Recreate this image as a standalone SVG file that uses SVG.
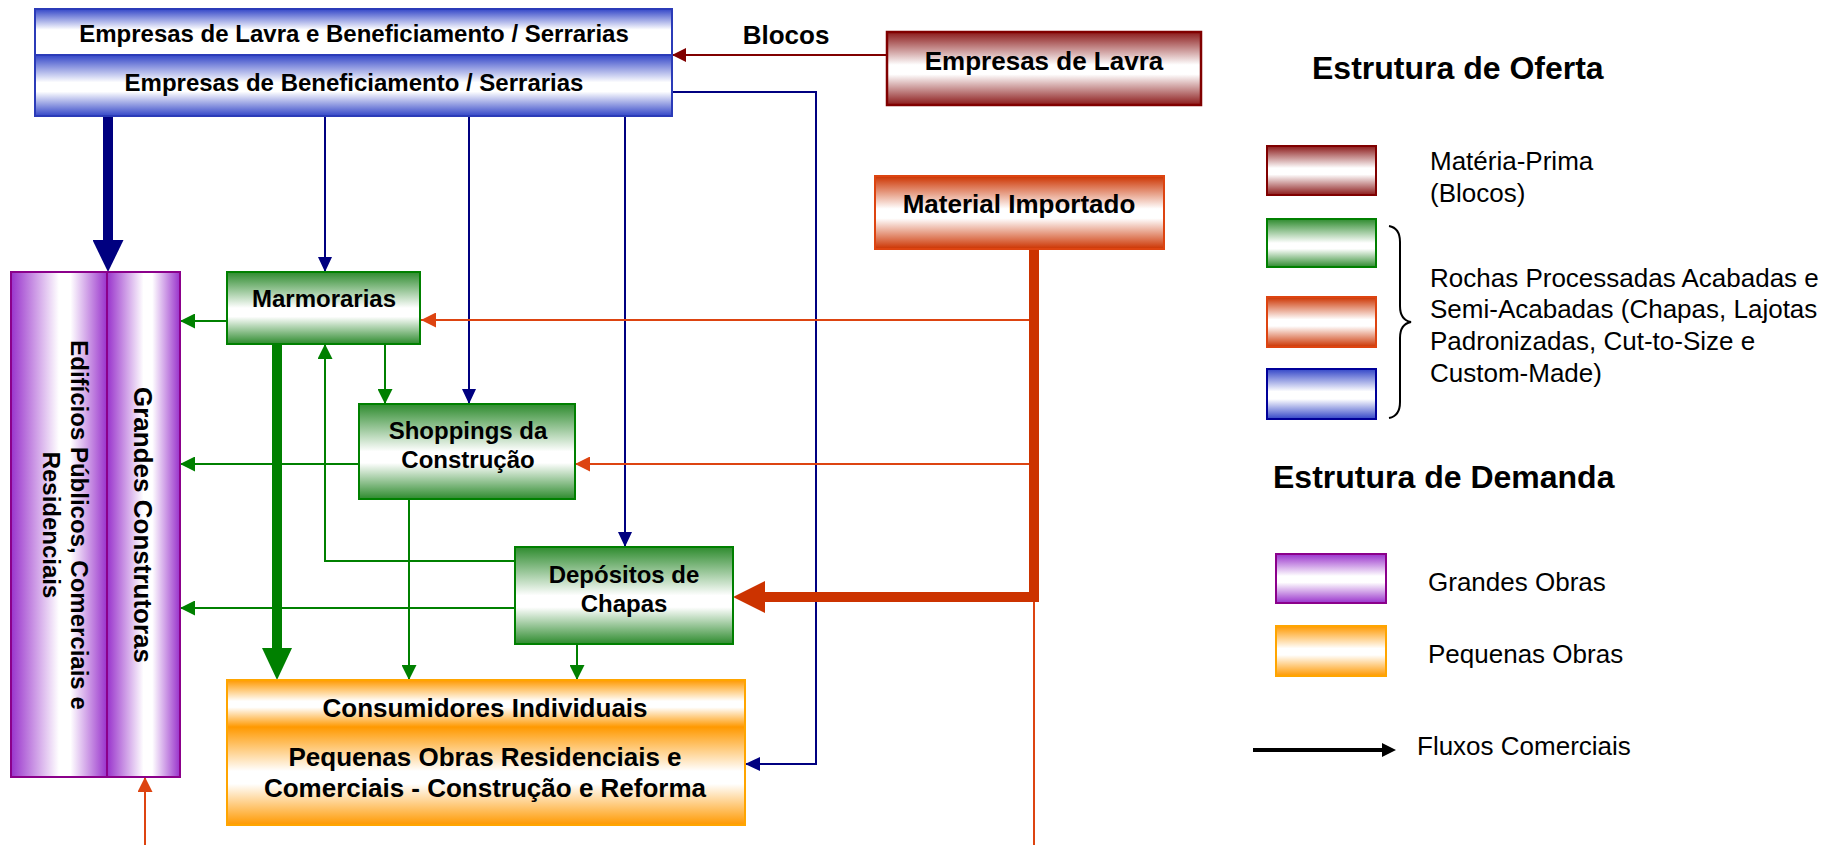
<svg xmlns="http://www.w3.org/2000/svg" width="1847" height="845" viewBox="0 0 1847 845">
<style>
.t{font-family:"Liberation Sans",Arial,sans-serif;fill:#000;}
.b{font-weight:bold;}
.c{text-anchor:middle;dominant-baseline:central;}
.s{dominant-baseline:central;}
.f24{font-size:24px;}
.f26{font-size:26px;}
.f32{font-size:32px;}
.ln{fill:none;stroke-linejoin:miter;}
.navy{stroke:#000080;stroke-width:2;}
.grn{stroke:#008000;stroke-width:2;}
.red{stroke:#dd4411;stroke-width:2;}
</style>
<defs>
<linearGradient id="gBlueTop" x1="0" y1="0" x2="0" y2="1"><stop offset="0" stop-color="#3346c8"/><stop offset="0.45" stop-color="#ffffff"/><stop offset="1" stop-color="#ffffff"/></linearGradient>
<linearGradient id="gBlue" x1="0" y1="0" x2="0" y2="1"><stop offset="0" stop-color="#3346c8"/><stop offset="0.45" stop-color="#ffffff"/><stop offset="0.6" stop-color="#ffffff"/><stop offset="1" stop-color="#3346c8"/></linearGradient>
<linearGradient id="gGreen" x1="0" y1="0" x2="0" y2="1"><stop offset="0" stop-color="#2e8b2e"/><stop offset="0.5" stop-color="#ffffff"/><stop offset="0.62" stop-color="#ffffff"/><stop offset="1" stop-color="#2e8b2e"/></linearGradient>
<linearGradient id="gMaroon" x1="0" y1="0" x2="0" y2="1"><stop offset="0" stop-color="#8b1a1a"/><stop offset="0.45" stop-color="#ffffff"/><stop offset="0.58" stop-color="#ffffff"/><stop offset="1" stop-color="#8b1a1a"/></linearGradient>
<linearGradient id="gRed" x1="0" y1="0" x2="0" y2="1"><stop offset="0" stop-color="#cc3300"/><stop offset="0.45" stop-color="#ffffff"/><stop offset="0.58" stop-color="#ffffff"/><stop offset="1" stop-color="#cc3300"/></linearGradient>
<linearGradient id="gOrange" x1="0" y1="0" x2="0" y2="1"><stop offset="0" stop-color="#ff9900"/><stop offset="0.45" stop-color="#ffffff"/><stop offset="0.58" stop-color="#ffffff"/><stop offset="1" stop-color="#ff9900"/></linearGradient>
<linearGradient id="gPurpleV" x1="0" y1="0" x2="0" y2="1"><stop offset="0" stop-color="#9933cc"/><stop offset="0.45" stop-color="#ffffff"/><stop offset="0.58" stop-color="#ffffff"/><stop offset="1" stop-color="#9933cc"/></linearGradient>
<linearGradient id="gPurpleH" x1="0" y1="0" x2="1" y2="0"><stop offset="0" stop-color="#9933cc"/><stop offset="0.5" stop-color="#ffffff"/><stop offset="0.62" stop-color="#ffffff"/><stop offset="1" stop-color="#9933cc"/></linearGradient>
<marker id="aNavy" markerUnits="userSpaceOnUse" markerWidth="15" markerHeight="14" refX="15" refY="7" orient="auto"><path d="M0,0 L15,7 L0,14 z" fill="#000080"/></marker>
<marker id="aNavyBig" markerUnits="userSpaceOnUse" markerWidth="32" markerHeight="31" refX="0" refY="15.5" orient="auto"><path d="M0,0 L32,15.5 L0,31 z" fill="#000080"/></marker>
<marker id="aGrn" markerUnits="userSpaceOnUse" markerWidth="15" markerHeight="15" refX="15" refY="7.5" orient="auto"><path d="M0,0 L15,7.5 L0,15 z" fill="#008000"/></marker>
<marker id="aGrnBig" markerUnits="userSpaceOnUse" markerWidth="32" markerHeight="30" refX="0" refY="15" orient="auto"><path d="M0,0 L32,15 L0,30 z" fill="#008000"/></marker>
<marker id="aRed" markerUnits="userSpaceOnUse" markerWidth="15" markerHeight="15" refX="15" refY="7.5" orient="auto"><path d="M0,0 L15,7.5 L0,15 z" fill="#dd4411"/></marker>
<marker id="aRedBig" markerUnits="userSpaceOnUse" markerWidth="32" markerHeight="32" refX="0" refY="16" orient="auto"><path d="M0,0 L32,16 L0,32 z" fill="#cc3300"/></marker>
<marker id="aMaroon" markerUnits="userSpaceOnUse" markerWidth="14" markerHeight="14" refX="14" refY="7" orient="auto"><path d="M0,0 L14,7 L0,14 z" fill="#800000"/></marker>
<marker id="aBlack" markerUnits="userSpaceOnUse" markerWidth="14" markerHeight="14" refX="0" refY="7" orient="auto"><path d="M0,0 L14,7 L0,14 z" fill="#000"/></marker>
</defs>
<rect width="1847" height="845" fill="#ffffff"/>

<g id="connectors">
<path class="ln" d="M108,116 V240" stroke="#000080" stroke-width="10" marker-end="url(#aNavyBig)"/>
<path class="ln navy" d="M325,116 V272" marker-end="url(#aNavy)"/>
<path class="ln navy" d="M469,116 V404" marker-end="url(#aNavy)"/>
<path class="ln navy" d="M625,116 V547" marker-end="url(#aNavy)"/>
<path class="ln navy" d="M673,92 H816 V764 H745" marker-end="url(#aNavy)"/>
<path class="ln grn" d="M227,321 H180" marker-end="url(#aGrn)"/>
<path class="ln" d="M277,344 V648" stroke="#008000" stroke-width="10" marker-end="url(#aGrnBig)"/>
<path class="ln grn" d="M515,561 H325 V344" marker-end="url(#aGrn)"/>
<path class="ln grn" d="M385,344 V404" marker-end="url(#aGrn)"/>
<path class="ln grn" d="M359,464 H180" marker-end="url(#aGrn)"/>
<path class="ln grn" d="M409,499 V680" marker-end="url(#aGrn)"/>
<path class="ln grn" d="M515,608 H180" marker-end="url(#aGrn)"/>
<path class="ln grn" d="M577,644 V680" marker-end="url(#aGrn)"/>
<path class="ln red" d="M1034,320 H421" marker-end="url(#aRed)"/>
<path class="ln red" d="M1034,464 H575" marker-end="url(#aRed)"/>
<path class="ln red" d="M1034,597 V845"/>
<path class="ln" d="M1034,249 V597 H765" stroke="#cc3300" stroke-width="10" marker-end="url(#aRedBig)"/>
<path class="ln red" d="M145,845 V777" marker-end="url(#aRed)"/>
<path class="ln" d="M887,55 H672" stroke="#800000" stroke-width="2" marker-end="url(#aMaroon)"/>
</g>

<g id="node-serrarias">
<rect x="35" y="9" width="637" height="46" fill="url(#gBlueTop)" stroke="#2b3bb8" stroke-width="2"/>
<rect x="35" y="55" width="637" height="61" fill="url(#gBlue)" stroke="#2b3bb8" stroke-width="2"/>
<text class="t b c f24" x="354" y="33">Empresas de Lavra e Beneficiamento / Serrarias</text>
<text class="t b c f24" x="354" y="82">Empresas de Beneficiamento / Serrarias</text>
</g>

<g id="label-blocos"><text class="t b c f26" x="786" y="35">Blocos</text></g>

<g id="node-lavra">
<rect x="887" y="32" width="314" height="73" fill="url(#gMaroon)" stroke="#800000" stroke-width="2.5"/>
<text class="t b c f26" x="1044" y="61">Empresas de Lavra</text>
</g>

<g id="node-importado">
<rect x="875" y="176" width="289" height="73" fill="url(#gRed)" stroke="#dd4411" stroke-width="2"/>
<text class="t b c f26" x="1019" y="204">Material Importado</text>
</g>

<g id="node-edificios">
<rect x="11" y="272" width="96" height="505" fill="url(#gPurpleH)" stroke="#8b008b" stroke-width="2"/>
<text class="t b c f24" transform="translate(79,525) rotate(90)">Edifícios Públicos, Comerciais e</text>
<text class="t b c f24" transform="translate(51,525) rotate(90)">Residenciais</text>
</g>

<g id="node-construtoras">
<rect x="107" y="272" width="73" height="505" fill="url(#gPurpleH)" stroke="#8b008b" stroke-width="2"/>
<text class="t b c f26" transform="translate(143,525) rotate(90)">Grandes Construtoras</text>
</g>

<g id="node-marmorarias">
<rect x="227" y="272" width="193" height="72" fill="url(#gGreen)" stroke="#008000" stroke-width="2"/>
<text class="t b c f24" x="324" y="298">Marmorarias</text>
</g>

<g id="node-shoppings">
<rect x="359" y="404" width="216" height="95" fill="url(#gGreen)" stroke="#008000" stroke-width="2"/>
<text class="t b c f24" x="468" y="430">Shoppings da</text>
<text class="t b c f24" x="468" y="459">Construção</text>
</g>

<g id="node-depositos">
<rect x="515" y="547" width="218" height="97" fill="url(#gGreen)" stroke="#008000" stroke-width="2"/>
<text class="t b c f24" x="624" y="574">Depósitos de</text>
<text class="t b c f24" x="624" y="603">Chapas</text>
</g>

<g id="node-consumidores">
<rect x="227" y="680" width="518" height="47" fill="url(#gOrange)" stroke="none"/>
<rect x="227" y="727" width="518" height="98" fill="url(#gOrange)" stroke="none"/>
<rect x="227" y="680" width="518" height="145" fill="none" stroke="#ffa500" stroke-width="2"/>
<text class="t b c f26" x="485" y="708">Consumidores Individuais</text>
<text class="t b c f26" x="485" y="757">Pequenas Obras Residenciais e</text>
<text class="t b c f26" x="485" y="788">Comerciais - Construção e Reforma</text>
</g>

<g id="legend">
<text class="t b s f32" x="1312" y="68">Estrutura de Oferta</text>
<rect x="1267" y="146" width="109" height="49" fill="url(#gMaroon)" stroke="#800000" stroke-width="2"/>
<rect x="1267" y="219" width="109" height="48" fill="url(#gGreen)" stroke="#008000" stroke-width="2"/>
<rect x="1267" y="297" width="109" height="50" fill="url(#gRed)" stroke="#dd4411" stroke-width="2"/>
<rect x="1267" y="369" width="109" height="50" fill="url(#gBlue)" stroke="#000099" stroke-width="2"/>
<text class="t s f26" x="1430" y="161">Matéria-Prima</text>
<text class="t s f26" x="1430" y="193">(Blocos)</text>
<path d="M1389,226 Q1400,228 1400,242 V306 Q1400,320 1411,322 Q1400,324 1400,338 V402 Q1400,416 1389,418" fill="none" stroke="#000" stroke-width="2"/>
<text class="t s f26" x="1430" y="278">Rochas Processadas Acabadas e</text>
<text class="t s f26" x="1430" y="309">Semi-Acabadas (Chapas, Lajotas</text>
<text class="t s f26" x="1430" y="341">Padronizadas, Cut-to-Size e</text>
<text class="t s f26" x="1430" y="373">Custom-Made)</text>
<text class="t b s f32" x="1273" y="477">Estrutura de Demanda</text>
<rect x="1276" y="554" width="110" height="49" fill="url(#gPurpleV)" stroke="#8b008b" stroke-width="2"/>
<rect x="1276" y="626" width="110" height="50" fill="url(#gOrange)" stroke="#ffa500" stroke-width="2"/>
<text class="t s f26" x="1428" y="582">Grandes Obras</text>
<text class="t s f26" x="1428" y="654">Pequenas Obras</text>
<path d="M1253,750 H1382" stroke="#000" stroke-width="4" fill="none" marker-end="url(#aBlack)"/>
<text class="t s f26" x="1417" y="746">Fluxos Comerciais</text>
</g>
</svg>
